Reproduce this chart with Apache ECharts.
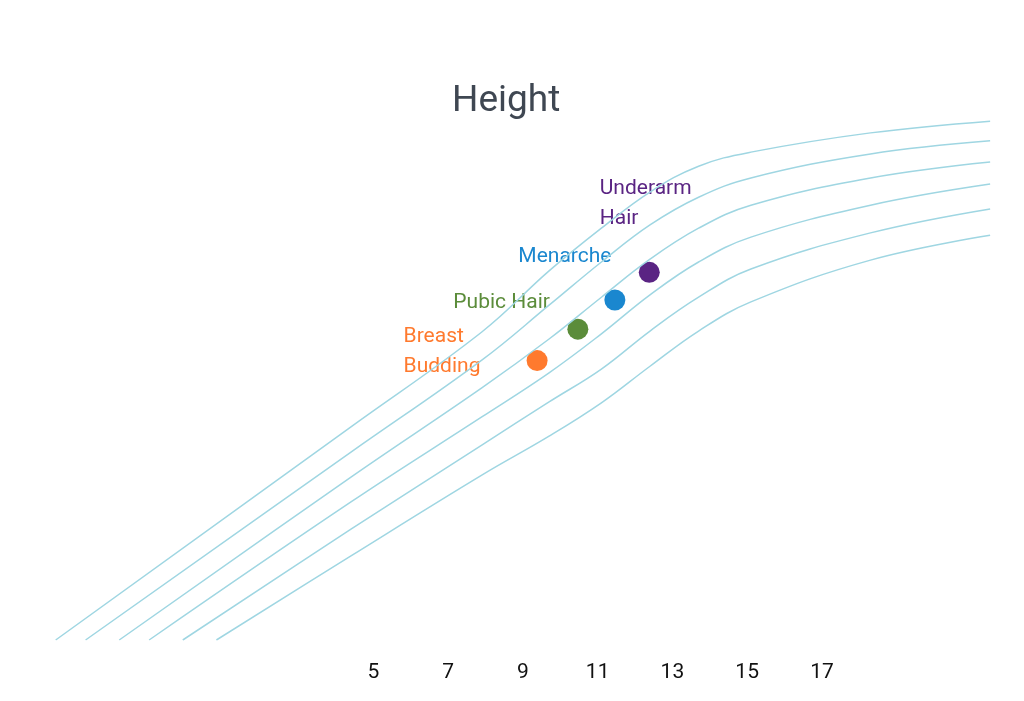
<!DOCTYPE html>
<html>
<head>
<meta charset="utf-8">
<title>Height</title>
<script src="https://cdn.jsdelivr.net/npm/echarts@6/dist/echarts.min.js"></script>
<style>
    html, body { margin: 0; padding: 0; background: #fff; }
    #chart { width: 1024px; height: 701px; }
</style>
</head>
<body>
<div id="chart"></div>
<script>
var ages = [4.4, 7.9, 9.7, 11.1, 12.4, 13.7, 15.1, 18.3, 21.5];
// age at which each curve leaves the bottom edge
var startAges = [-3.5, -2.7, -1.8, -1.0, -0.1, 0.8];
var startHeight = 65;

var curve1 = [110.4, 130.6, 143.6, 152.7, 160.4, 165.9, 168.9, 173.0, 175.5];
var curve2 = [105.0, 124.6, 136.3, 145.5, 153.4, 159.3, 163.4, 168.5, 171.3];
var curve3 = [99.7, 118.7, 129.1, 138.0, 146.1, 152.7, 157.6, 163.4, 166.8];
var curve4 = [94.4, 112.5, 121.9, 130.2, 138.5, 145.5, 150.8, 157.6, 162.1];
var curve5 = [88.6, 106.5, 115.7, 122.7, 130.8, 138.0, 144.0, 151.7, 156.8];
var curve6 = [82.9, 100.1, 108.4, 115.5, 123.3, 130.8, 137.0, 145.9, 151.2];
var curves = [curve1, curve2, curve3, curve4, curve5, curve6];

// milestones
var stageNames = ['Breast\nBudding', 'Pubic Hair', 'Menarche', 'Underarm\nHair'];
var stageAges = [9.38, 10.47, 11.46, 12.38];
var stageHeights = [124.5, 131.2, 137.4, 143.3];
var stageColors = ['#ff7a2e', '#5b8c3a', '#1a87cf', '#5a2483'];

var tickLabels = [5, 7, 9, 11, 13, 15, 17];

var chart = echarts.init(document.getElementById('chart'));

var series = [];
curves.forEach(function(c, i) {
    var pts = [[startAges[i], startHeight]];
    for (var k = 0; k < ages.length; k++) {
        pts.push([ages[k], c[k]]);
    }
    series.push({
        type: 'line',
        data: pts,
        smooth: 0.4,
        showSymbol: false,
        silent: true,
        lineStyle: { color: '#9fd6e2', width: 1.5 }
    });
});

// where each label sits relative to its dot
var labelPos = [[-123, -28], [-114, -31], [-86, -48], [-39, -88]];

stageNames.forEach(function(name, i) {
    series.push({
        type: 'scatter',
        name: name,
        symbolSize: 21,
        data: [[stageAges[i], stageHeights[i]]],
        itemStyle: { color: stageColors[i], opacity: 1 },
        label: {
            show: true,
            formatter: name,
            position: labelPos[i],
            align: 'left',
            verticalAlign: 'top',
            color: stageColors[i],
            fontFamily: 'Roboto',
            fontSize: 21,
            lineHeight: 30
        }
    });
});

var option = {
    animation: false,
    title: {
        text: 'Height',
        left: 447,
        top: 78,
        textStyle: {
            fontFamily: 'Roboto',
            fontSize: 37,
            fontWeight: 'normal',
            color: '#3f4752'
        }
    },
    grid: { left: 37, right: 32, top: 100, bottom: 61 },
    xAxis: {
        type: 'value',
        min: -4,
        max: 21.55,
        axisLine: { show: false },
        axisTick: { show: false },
        splitLine: { show: false },
        axisLabel: {
            customValues: tickLabels,
            margin: 22,
            color: '#111',
            fontFamily: 'Roboto',
            fontSize: 21
        }
    },
    yAxis: {
        type: 'value',
        min: 65,
        max: 180,
        show: false
    },
    series: series
};

chart.setOption(option);
</script>
</body>
</html>
